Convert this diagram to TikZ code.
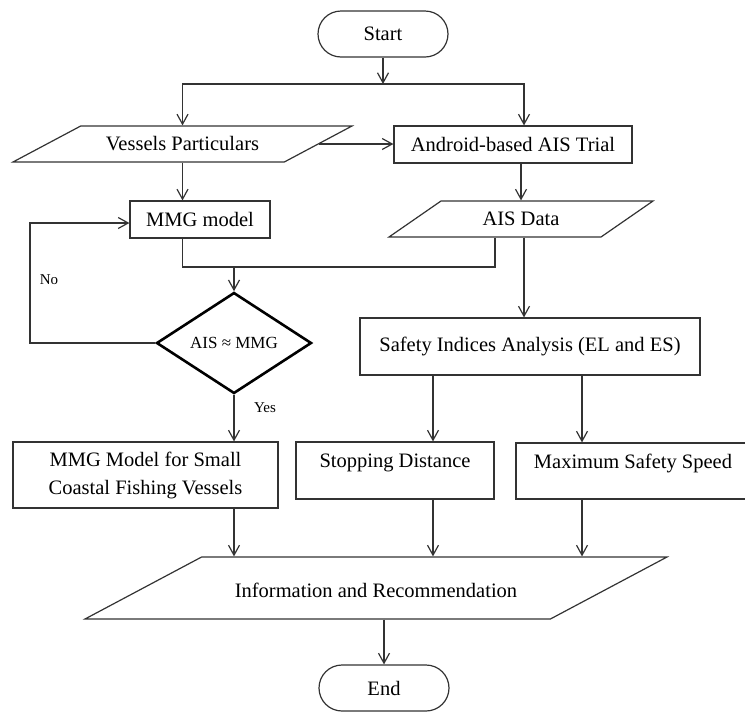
\documentclass[tikz,border=0pt]{standalone}
\usepackage{fontspec}
\setmainfont{Liberation Serif}
\usetikzlibrary{arrows.meta,shapes.geometric}

\begin{document}
\begin{tikzpicture}[>={Straight Barb[length=10pt,width=11pt]}, x=1pt, y=-1pt, line width=1.2pt, font={\fontsize{20.5}{25}\selectfont}]
    \tikzset{term/.style= {draw=black!80, rectangle, rounded corners=23pt, minimum width=130pt, minimum height=46pt} }
    \tikzset{proc/.style= {draw=black!80, rectangle, inner sep=0pt} }
    \tikzset{data/.style= {draw=black!80, trapezium, trapezium left angle=28, trapezium right angle=152, trapezium stretches body, inner sep=0pt, text height=24pt, text depth=12pt} }
    \tikzset{decide/.style= {draw=black, diamond, line width=2.6pt, minimum width=155pt, minimum height=101pt, inner sep=0pt, font={\fontsize{17}{20}\selectfont}} }
    \tikzset{lbl/.style= {font={\fontsize{15}{18}\selectfont}} }
    \tikzset{upper/.style= {text height=15pt, text depth=21pt} }
    \tikzset{flow/.style= {draw=black!80, ->} }

    \useasboundingbox (0,0) rectangle (745,713);

    \node[term] (start) at (383,34) {Start};
    \node[data, minimum width=339pt] (vessels) at (182.5,144) {Vessels Particulars};
    \node[proc, minimum width=238pt, minimum height=37pt] (trial) at (513,144.5) {Android-based AIS Trial};
    \node[proc, minimum width=140pt, minimum height=37pt] (mmg) at (200,219.5) {MMG model};
    \node[data, trapezium left angle=34.7, trapezium right angle=145.3, minimum width=264pt] (ais) at (521,219) {AIS Data};
    \node[decide] (check) at (234,343) {AIS ≈ MMG};
    \node[proc, minimum width=340pt, minimum height=57pt] (safety) at (530,346.5) {Safety Indices Analysis (EL and ES)};
    \node[proc, align=center, font={\fontsize{20.5}{28}\selectfont}, minimum width=265pt, minimum height=66pt] (mmgsmall) at (145.5,475) {MMG Model for Small\\Coastal Fishing Vessels};
    \node[proc, upper, minimum width=198pt, minimum height=57pt] (stop) at (395,470.5) {Stopping Distance};
    \node[proc, upper, minimum width=234pt, minimum height=56pt] (speed) at (633,471) {Maximum Safety Speed};
    \node[data, text height=40pt, text depth=22pt, minimum width=582pt] (info) at (376,588) {Information and Recommendation};
    \node[term] (end) at (384,688) {End};

    \node[lbl] (no) at (49,280) {No};
    \node[lbl] (yes) at (265,408) {Yes};

    \coordinate (split) at (383,84);
    \coordinate (join) at (234,267);
    \coordinate (noturn) at (30,343);

    \path[flow] (start) -- (split);
    \path[flow] (split) -| (vessels.north);
    \path[flow] (split) -| ([xshift=11pt]trial.north);
    \path[flow] (vessels.east) -- (vessels.east -| trial.west);
    \path[flow] (vessels.south) -- (vessels.south |- mmg.north);
    \path[flow] (ais.north |- trial.south) -- (ais.north);
    \path[draw=black!80] (vessels.south |- mmg.south) |- (join) -| ([xshift=-26pt]ais.south);
    \path[flow] (join) -- (check.north);
    \path[flow] ([xshift=3pt]ais.south) -- ([xshift=3pt]ais.south |- safety.north);
    \path[flow] (check.west) -- (noturn) |- ([yshift=-3.5pt]mmg.west);
    \path[flow] (check.south) -- (check.south |- mmgsmall.north);
    \path[flow] ([xshift=38pt]stop.north |- safety.south) -- ([xshift=38pt]stop.north);
    \path[flow] ([xshift=-51pt]speed.north |- safety.south) -- ([xshift=-51pt]speed.north);
    \path[flow] (check.south |- mmgsmall.south) -- (check.south |- info.north);
    \path[flow] ([xshift=38pt]stop.south) -- ([xshift=38pt]stop.south |- info.north);
    \path[flow] ([xshift=-51pt]speed.south) -- ([xshift=-51pt]speed.south |- info.north);
    \path[flow] (end.north |- info.south) -- (end.north);
\end{tikzpicture}
\end{document}
